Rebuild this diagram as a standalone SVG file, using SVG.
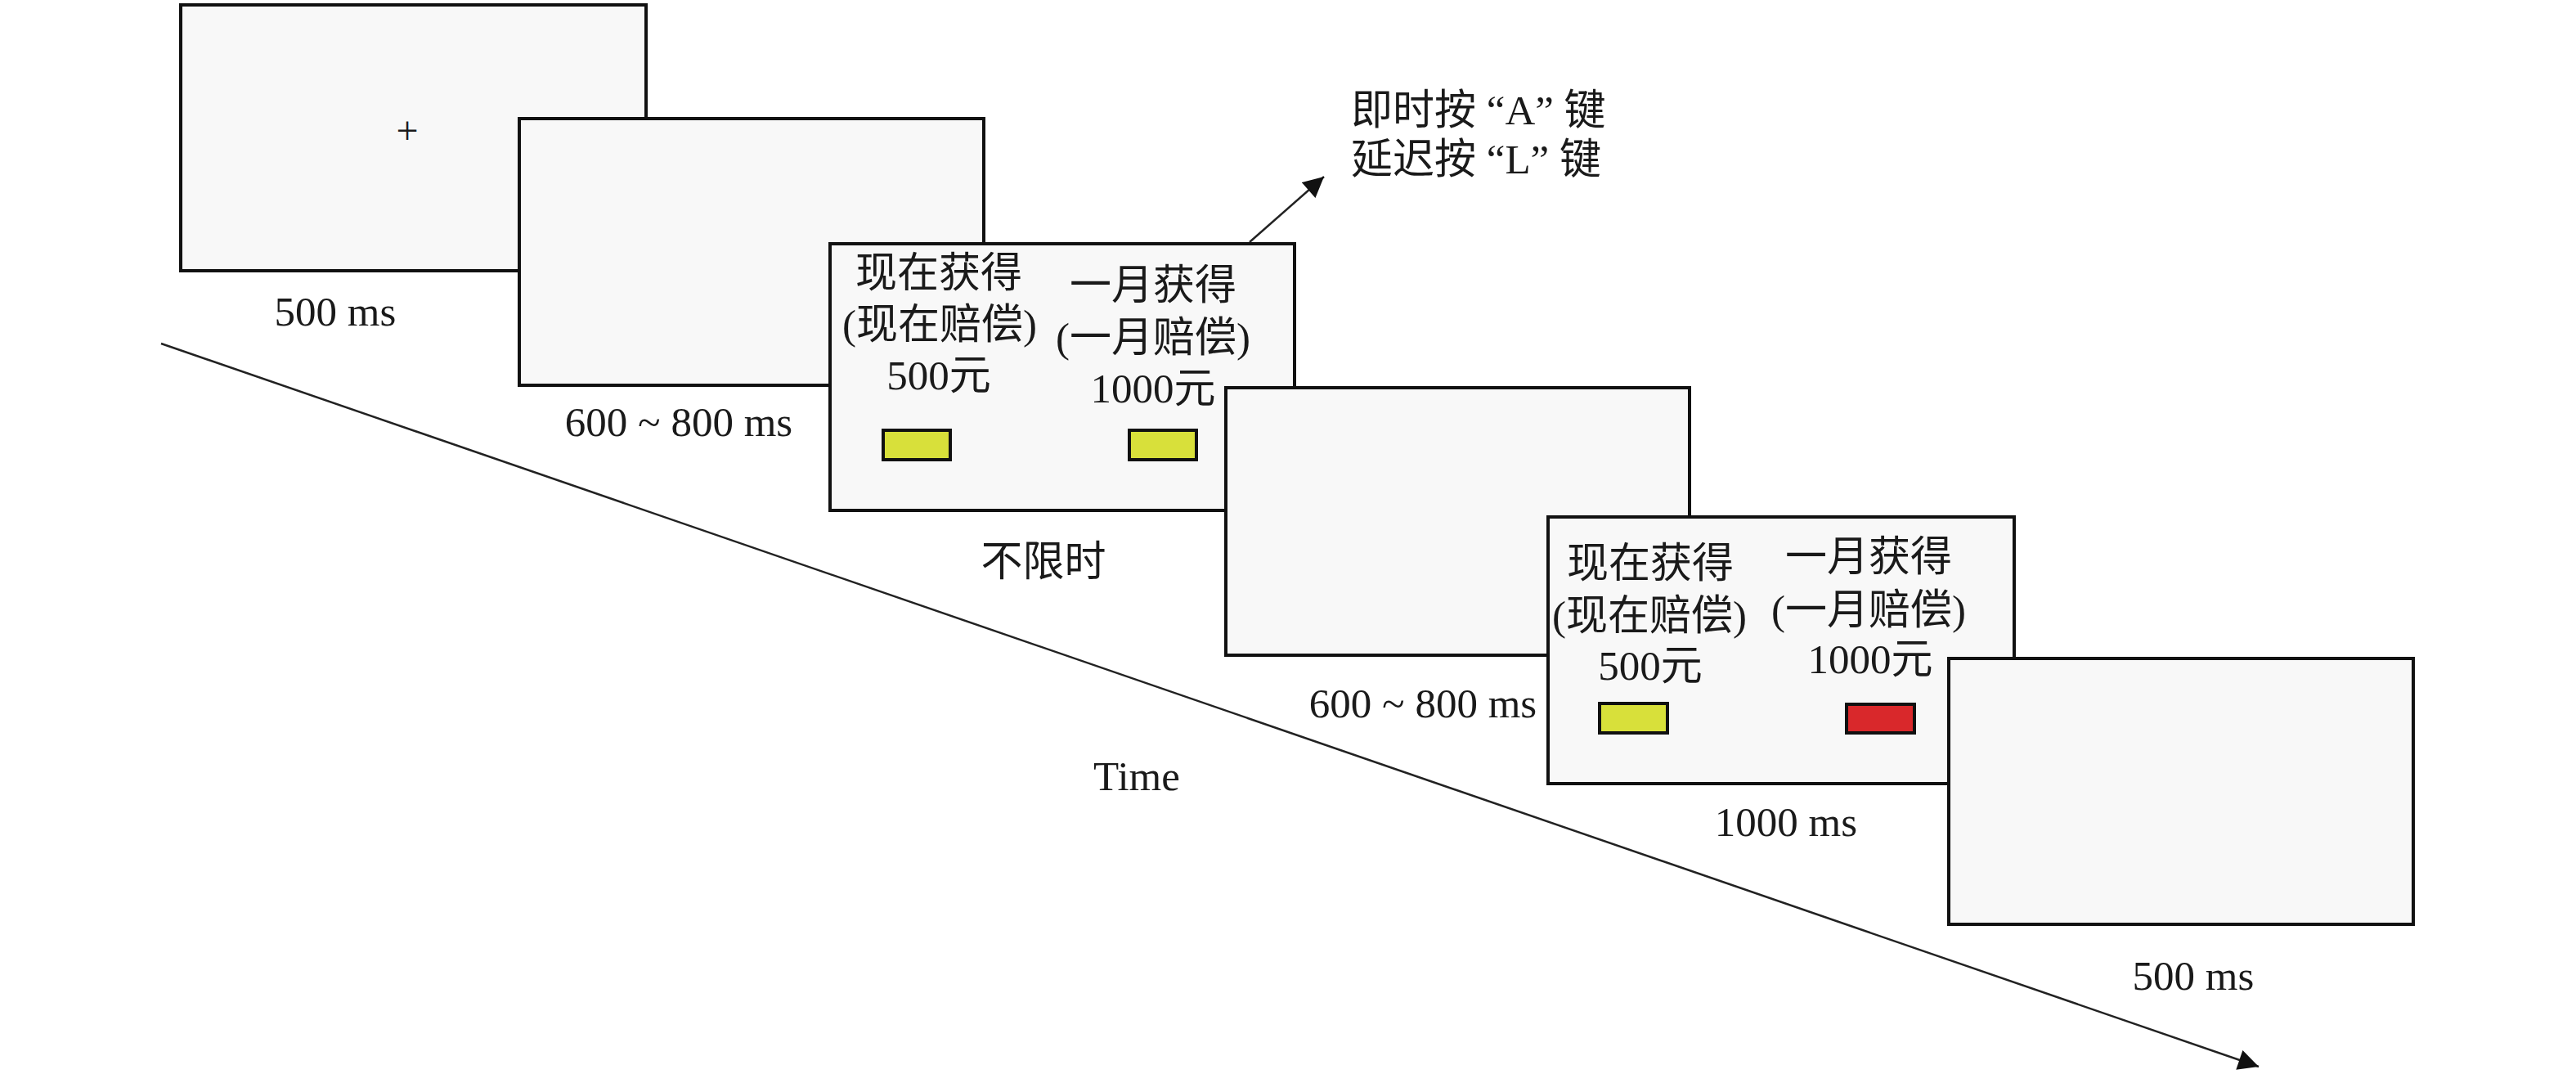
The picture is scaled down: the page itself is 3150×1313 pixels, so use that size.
<svg xmlns="http://www.w3.org/2000/svg" width="3150" height="1313" viewBox="0 0 3150 1313">
<style>
.scr{fill:#f8f8f8;stroke:#111;stroke-width:4}
.t{font-family:"Liberation Serif","Noto Sans CJK SC",serif;font-size:51px;fill:#1a1a1a}
.m{text-anchor:middle}
.y{fill:#d8e03a;stroke:#111;stroke-width:4}
.r{fill:#d9282b;stroke:#111;stroke-width:4}
.ln{stroke:#222;stroke-width:2.5;fill:none}
</style>
<defs>
<marker id="ah" viewBox="0 0 10 10" refX="10" refY="5" markerWidth="10" markerHeight="10" markerUnits="userSpaceOnUse" orient="auto">
<path d="M0,0 L10,5 L0,10 z" fill="#111"/>
</marker>
<marker id="ah2" viewBox="0 0 10 10" refX="10" refY="5" markerWidth="11" markerHeight="10" orient="auto">
<path d="M0,0 L10,5 L0,10 z" fill="#111"/>
</marker>
</defs>
<rect width="3150" height="1313" fill="#fff"/>
<g id="connectors">
<line class="ln" x1="197" y1="420" x2="2762" y2="1304" marker-end="url(#ah2)"/>
<line class="ln" x1="1528" y1="296" x2="1619" y2="216" marker-end="url(#ah2)"/>
</g>
<g id="screen1">
<rect class="scr" x="221" y="6" width="569" height="325"/>
<text class="t m" x="498" y="176" style="font-size:48px">+</text>
</g>
<text class="t m" x="410" y="398">500 ms</text>
<g id="screen2">
<rect class="scr" x="635" y="145" width="568" height="326"/>
</g>
<text class="t m" x="830" y="533">600 ~ 800 ms</text>
<g id="screen3">
<rect class="scr" x="1015" y="298" width="568" height="326"/>
<text class="t m" x="1148" y="351">现在获得</text>
<text class="t m" x="1149" y="414">(现在赔偿)</text>
<text class="t m" x="1148" y="476">500元</text>
<text class="t m" x="1410" y="366">一月获得</text>
<text class="t m" x="1410" y="430">(一月赔偿)</text>
<text class="t m" x="1410" y="492">1000元</text>
<rect class="y" x="1080" y="526" width="82" height="36"/>
<rect class="y" x="1381" y="526" width="82" height="36"/>
</g>
<text class="t m" x="1276" y="704">不限时</text>
<g id="response">
<text class="t" x="1652" y="152">即时按 “A” 键</text>
<text class="t" x="1652" y="212">延迟按 “L” 键</text>
</g>
<g id="screen4">
<rect class="scr" x="1499" y="474" width="567" height="327"/>
</g>
<text class="t m" x="1740" y="877">600 ~ 800 ms</text>
<text class="t m" x="1390" y="966">Time</text>
<g id="screen5">
<rect class="scr" x="1893" y="632" width="570" height="326"/>
<text class="t m" x="2018" y="706">现在获得</text>
<text class="t m" x="2017" y="770">(现在赔偿)</text>
<text class="t m" x="2018" y="831">500元</text>
<text class="t m" x="2285" y="698">一月获得</text>
<text class="t m" x="2285" y="763">(一月赔偿)</text>
<text class="t m" x="2287" y="823">1000元</text>
<rect class="y" x="1956" y="860" width="83" height="36"/>
<rect class="r" x="2258" y="861" width="83" height="35"/>
</g>
<text class="t m" x="2184" y="1022">1000 ms</text>
<g id="screen6">
<rect class="scr" x="2383" y="805" width="568" height="325"/>
</g>
<text class="t m" x="2682" y="1210">500 ms</text>
</svg>
